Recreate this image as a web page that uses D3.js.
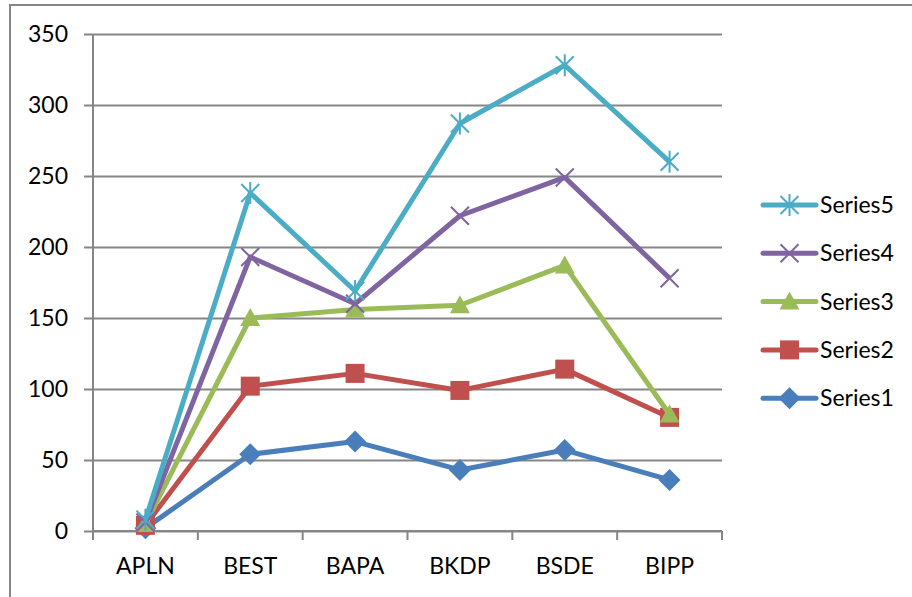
<!DOCTYPE html>
<html>
<head>
<meta charset="utf-8">
<script src="https://cdn.jsdelivr.net/npm/d3@7"></script>
<style>
  html, body { margin: 0; padding: 0; background: #fff; }
  svg { display: block; }
  text { font-family: Lato, "Open Sans", sans-serif; fill: #000; }
</style>
</head>
<body>
<svg id="chart" width="912" height="597"></svg>
<script>
// Categories and series values
const categories = ["APLN", "BEST", "BAPA", "BKDP", "BSDE", "BIPP"];
const series1 = [2, 54, 63, 43, 57, 36];
const series2 = [4, 102, 111, 99, 114, 80];
const series3 = [5, 150, 156, 159, 187, 82];
const series4 = [6, 193, 160, 222, 249, 178];
const series5 = [8, 238, 169, 287, 328, 260];
const seriesNames = ["Series1", "Series2", "Series3", "Series4", "Series5"];
const yTicks = [0, 50, 100, 150, 200, 250, 300, 350];

const seriesList = [
  { name: seriesNames[0], values: series1, color: "#4A7EBB", marker: "diamond" },
  { name: seriesNames[1], values: series2, color: "#C0504D", marker: "square" },
  { name: seriesNames[2], values: series3, color: "#9BBB59", marker: "triangle" },
  { name: seriesNames[3], values: series4, color: "#8064A2", marker: "x" },
  { name: seriesNames[4], values: series5, color: "#4BACC6", marker: "star" }
];

const svg = d3.select("#chart");
const plot = { left: 93, right: 722, top: 34, bottom: 531 };
const axisColor = "#868686";
const fontSize = 23;

// Outer chart frame
svg.append("rect")
  .attr("x", 10).attr("y", 5)
  .attr("width", 1000).attr("height", 1000)
  .attr("fill", "none").attr("stroke", axisColor).attr("stroke-width", 2);

const x = d3.scaleBand().domain(categories).range([plot.left, plot.right]);
const y = d3.scaleLinear().domain([0, 350]).range([plot.bottom, plot.top]);

// Horizontal gridlines + y axis
const yAxis = d3.axisLeft(y).tickValues(yTicks).tickSize(-(plot.right - plot.left));
const gy = svg.append("g").attr("transform", `translate(${plot.left},0)`).call(yAxis);
gy.select(".domain").remove();
gy.selectAll(".tick line").attr("stroke", axisColor).attr("stroke-width", 2).attr("x1", -9);
gy.selectAll(".tick text").attr("font-size", fontSize).attr("x", -25).attr("dy", "0.34em");

svg.append("line")
  .attr("x1", plot.left).attr("x2", plot.left)
  .attr("y1", plot.top).attr("y2", plot.bottom)
  .attr("stroke", axisColor).attr("stroke-width", 2);

// x axis with ticks at category boundaries
const gx = svg.append("g").attr("transform", `translate(0,${plot.bottom})`);
gx.append("line")
  .attr("x1", plot.left).attr("x2", plot.right)
  .attr("stroke", axisColor).attr("stroke-width", 2);
const bounds = categories.map(c => x(c)).concat([x(categories[categories.length - 1]) + x.bandwidth()]);
gx.selectAll("line.tk").data(bounds).join("line").attr("class", "tk")
  .attr("x1", d => d).attr("x2", d => d).attr("y1", 0).attr("y2", 9)
  .attr("stroke", axisColor).attr("stroke-width", 2);
gx.selectAll("text").data(categories).join("text")
  .attr("x", d => x(d) + x.bandwidth() / 2)
  .attr("y", 43)
  .attr("text-anchor", "middle")
  .attr("font-size", fontSize)
  .text(d => d);

const cx = c => x(c) + x.bandwidth() / 2;

function drawMarker(g, type, color, px, py) {
  if (type === "diamond") {
    g.append("path").attr("d", `M${px},${py - 11}L${px + 11},${py}L${px},${py + 11}L${px - 11},${py}Z`).attr("fill", color);
  } else if (type === "square") {
    g.append("rect").attr("x", px - 9.5).attr("y", py - 9.5).attr("width", 19).attr("height", 19).attr("fill", color);
  } else if (type === "triangle") {
    g.append("path").attr("d", `M${px},${py - 10}L${px + 10},${py + 8}L${px - 10},${py + 8}Z`).attr("fill", color);
  } else if (type === "x") {
    g.append("path").attr("d", `M${px - 9},${py - 9}L${px + 9},${py + 9}M${px - 9},${py + 9}L${px + 9},${py - 9}`)
      .attr("stroke", color).attr("stroke-width", 2).attr("fill", "none");
  } else if (type === "star") {
    g.append("path").attr("d", `M${px - 9},${py - 9}L${px + 9},${py + 9}M${px - 9},${py + 9}L${px + 9},${py - 9}M${px},${py - 11}L${px},${py + 11}`)
      .attr("stroke", color).attr("stroke-width", 2).attr("fill", "none");
  }
}

const line = d3.line().x((d, i) => cx(categories[i])).y(d => y(d));

seriesList.forEach(s => {
  const g = svg.append("g");
  g.append("path").datum(s.values).attr("d", line)
    .attr("fill", "none").attr("stroke", s.color).attr("stroke-width", 5)
    .attr("stroke-linejoin", "round");
  s.values.forEach((v, i) => drawMarker(g, s.marker, s.color, cx(categories[i]), y(v)));
});

// Legend, top entry is the last series
const legend = svg.append("g");
seriesList.slice().reverse().forEach((s, i) => {
  const ly = 205 + i * 48.3;
  const lg = legend.append("g");
  lg.append("line").attr("x1", 763).attr("x2", 816).attr("y1", ly).attr("y2", ly)
    .attr("stroke", s.color).attr("stroke-width", 5).attr("stroke-linecap", "round");
  drawMarker(lg, s.marker, s.color, 789.5, ly);
  lg.append("text").attr("x", 820).attr("y", ly).attr("dy", "0.35em")
    .attr("font-size", fontSize).text(s.name);
});
</script>
</body>
</html>
